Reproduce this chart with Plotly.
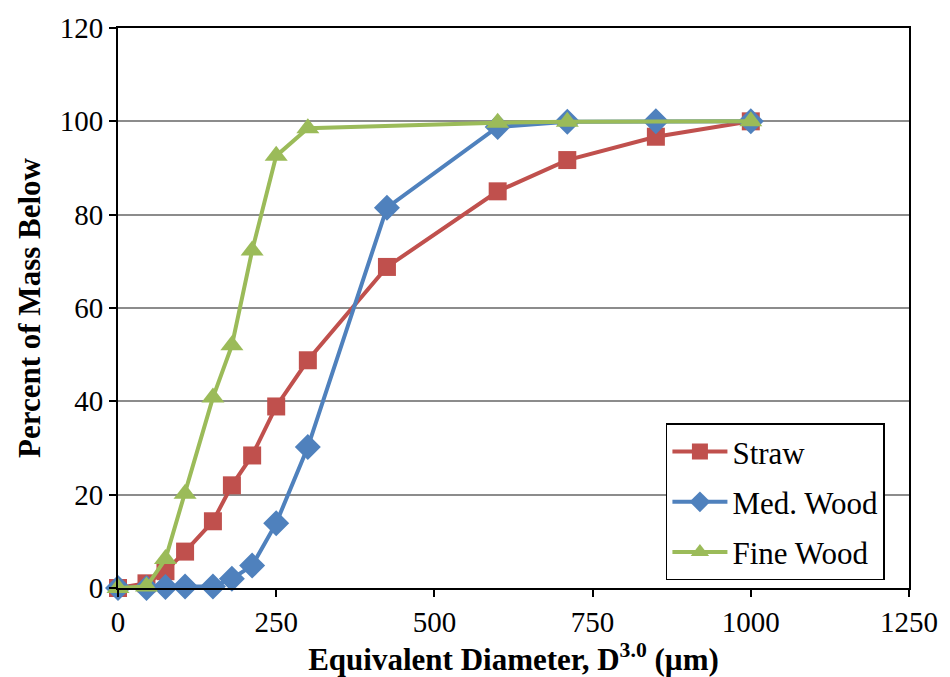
import plotly.graph_objects as go

straw_x = [0, 45, 75, 106, 150, 180, 212, 250, 300, 425, 600, 710, 850, 1000]
straw_y = [0, 1.0, 3.6, 7.8, 14.3, 22.0, 28.4, 38.9, 48.8, 68.8, 85.0, 91.7, 96.7, 100]

med_x = [0, 45, 75, 106, 150, 180, 212, 250, 300, 425, 600, 710, 850, 1000]
med_y = [0, 0, 0.2, 0.3, 0.3, 2.0, 4.8, 13.9, 30.2, 81.5, 98.8, 99.9, 100, 100]

fine_x = [0, 45, 75, 106, 150, 180, 212, 250, 300, 600, 710, 1000]
fine_y = [0, 0.3, 6.2, 20.2, 40.8, 52.0, 72.3, 92.6, 98.5, 99.7, 99.9, 100]

series = [
    ("Straw", straw_x, straw_y, "#C0504D", "square", 18),
    ("Med. Wood", med_x, med_y, "#4F81BD", "diamond", 20),
    ("Fine Wood", fine_x, fine_y, "#9BBB59", "triangle-up", 20),
]

fig = go.Figure()
for name, xs, ys, col, sym, sz in series:
    fig.add_trace(go.Scatter(
        x=xs, y=ys, name=name, mode="lines+markers",
        line=dict(color=col, width=4),
        marker=dict(color=col, symbol=sym, size=sz, line=dict(width=0)),
        cliponaxis=False, legendgroup=name,
    ))

font_family = "Liberation Serif, Times New Roman, serif"
fig.update_layout(
    width=950, height=677,
    margin=dict(l=118, r=38, t=27, b=89),
    paper_bgcolor="white", plot_bgcolor="white",
    font=dict(family=font_family, color="black", size=29),
    showlegend=True,
    legend=dict(
        x=0.6927, y=0.294, xanchor="left", yanchor="top",
        bordercolor="black", borderwidth=1.5, bgcolor="white",
        font=dict(size=31, family=font_family, color="black"),
        traceorder="grouped", tracegroupgap=7, itemwidth=55,
    ),
)
fig.update_xaxes(
    range=[0, 1250], tickvals=[0, 250, 500, 750, 1000, 1250],
    showline=True, linecolor="black", linewidth=2, mirror=True,
    ticks="outside", ticklen=7, tickwidth=2, tickcolor="black",
    showgrid=False, zeroline=False,
    tickfont=dict(size=29, family=font_family),
    title=dict(text="<b>Equivalent Diameter, D<sup>3.0</sup> (µm)</b>",
               font=dict(size=31, family=font_family), standoff=4),
)
fig.update_yaxes(
    range=[0, 120], tickvals=[0, 20, 40, 60, 80, 100, 120],
    showline=True, linecolor="black", linewidth=2, mirror=True,
    ticks="outside", ticklen=7, tickwidth=2, tickcolor="black",
    showgrid=True, gridcolor="#8C8C8C", gridwidth=1.5, zeroline=False,
    tickfont=dict(size=29, family=font_family),
    title=dict(text="<b>Percent of Mass Below</b>",
               font=dict(size=31, family=font_family), standoff=10),
)

fig.write_html("out.html")
